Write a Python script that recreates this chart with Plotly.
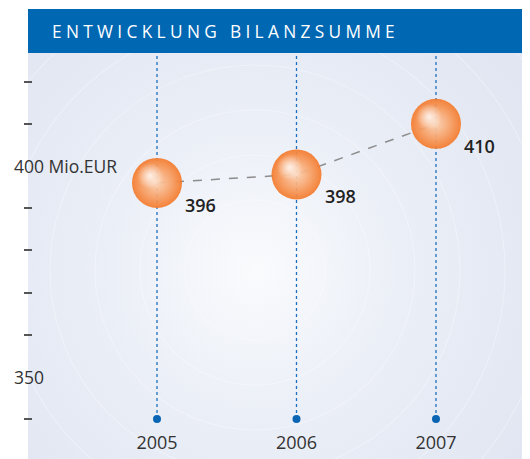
'''
    Entwicklung Bilanzsumme - bubble line chart with a blue header bar.
'''
import base64

import plotly.graph_objects as go

YEARS = [2005, 2006, 2007]
BILANZSUMME = [396, 398, 410]
Y_LABEL_VALUES = [400, 350]
Y_LABEL_TEXT = ['400 Mio.EUR', '350']
Y_TICKS = [340, 360, 370, 380, 390, 410, 420]
BASE_VALUE = 340

TITLE = 'ENTWICKLUNG BILANZSUMME'

Y_RANGE = [338.6, 426.8]
X_RANGE = [2004.111, 2007.674]

FONT = 'Open Sans'


def background_svg():
    '''
        Radial gradient used as the panel background.
    '''
    rings = ''.join(
        '<circle cx="227" cy="217" r="{}" fill="none" stroke="white" '
        'stroke-opacity="0.35" stroke-width="1"/>'.format(r)
        for r in (70, 115, 160, 205, 250, 295, 340)
    )
    svg = (
        '<svg xmlns="http://www.w3.org/2000/svg" width="502" height="406" '
        'viewBox="0 0 502 406" preserveAspectRatio="none">'
        '<defs><radialGradient id="g" gradientUnits="userSpaceOnUse" '
        'cx="227" cy="217" r="320">'
        '<stop offset="0" stop-color="#fafbfd"/>'
        '<stop offset="0.45" stop-color="#ebeff7"/>'
        '<stop offset="1" stop-color="#e1e6f2"/>'
        '</radialGradient></defs>'
        '<rect width="502" height="406" fill="url(#g)"/>' + rings + '</svg>'
    )
    return 'data:image/svg+xml;base64,' + base64.b64encode(svg.encode()).decode()


fig = go.Figure()

# dotted verticals from the base dot up to the header
for yr in YEARS:
    fig.add_trace(go.Scatter(
        x=[yr, yr], y=[BASE_VALUE, Y_RANGE[1]],
        mode='lines',
        line=dict(color='#1f6fc0', width=1.3, dash='dot'),
        hoverinfo='skip', showlegend=False,
    ))

# base dots
fig.add_trace(go.Scatter(
    x=YEARS, y=[BASE_VALUE] * len(YEARS),
    mode='markers',
    marker=dict(size=8, color='#0a64b4'),
    hoverinfo='skip', showlegend=False,
))

# dashed connecting line
fig.add_trace(go.Scatter(
    x=YEARS, y=BILANZSUMME,
    mode='lines',
    line=dict(color='#8c8c8c', width=1.5, dash='dash'),
    hoverinfo='skip', showlegend=False,
))

# spheres
fig.add_trace(go.Scatter(
    x=YEARS, y=BILANZSUMME,
    mode='markers',
    marker=dict(size=50, color='#f47a2c', opacity=0.93,
                line=dict(width=0),
                gradient=dict(type='radial', color='#fcd2b3')),
    hovertemplate='%{x}: %{y} Mio.EUR<extra></extra>',
    showlegend=False,
))

# highlight on the spheres (slightly up-left of centre)
fig.add_trace(go.Scatter(
    x=[yr - 0.05 for yr in YEARS], y=[v + 1.7 for v in BILANZSUMME],
    mode='markers',
    marker=dict(size=26, color='rgba(255,255,255,0)',
                line=dict(width=0),
                gradient=dict(type='radial', color='rgba(255,255,255,0.8)')),
    hoverinfo='skip', showlegend=False,
))

annotations = []
for yr, v in zip(YEARS, BILANZSUMME):
    annotations.append(dict(
        x=yr, y=v, xref='x', yref='y', text=str(v), showarrow=False,
        xanchor='left', yanchor='middle', xshift=26, yshift=-22,
        font=dict(family=FONT, size=18, color='#222222', weight=600),
    ))

for v, txt in zip(Y_LABEL_VALUES, Y_LABEL_TEXT):
    annotations.append(dict(
        x=-0.0423, y=v, xref='paper', yref='y', text=txt, showarrow=False,
        xanchor='left', yanchor='middle',
        font=dict(family=FONT, size=17.5, color='#333333'),
    ))

annotations.append(dict(
    x=0.0342, y=1.059, xref='paper', yref='paper',
    text='\u2005'.join(TITLE), showarrow=False,
    xanchor='left', yanchor='middle',
    font=dict(family=FONT, size=17.3, color='white'),
))

# the page body has an 8px margin: margins are set so the plot area lands
# where it should in the window, the overflow is clipped
fig.update_layout(
    width=530, height=459,
    margin=dict(l=25, r=8, t=45, b=42),
    paper_bgcolor='white',
    plot_bgcolor='rgba(0,0,0,0)',
    hovermode='closest',
    annotations=annotations,
    shapes=[dict(
        type='rect', xref='paper', yref='paper',
        x0=-0.01006, x1=1, y0=1.0, y1=1.1183,
        fillcolor='#0067b3', line=dict(width=0), layer='above',
    )],
    images=[dict(
        source=background_svg(), xref='paper', yref='paper',
        x=-0.01006, y=1.0, sizex=1.01006, sizey=1.0914,
        xanchor='left', yanchor='top', sizing='stretch', layer='below',
    )],
)

fig.update_xaxes(
    range=X_RANGE, tickvals=YEARS, ticktext=[str(y) for y in YEARS],
    showgrid=False, zeroline=False, showline=False, ticks='',
    ticklabelstandoff=5,
    tickfont=dict(family=FONT, size=18, color='#333333'),
)

fig.update_yaxes(
    range=Y_RANGE, tickvals=Y_TICKS, showticklabels=False,
    ticks='outside', ticklen=8, tickwidth=1.5, tickcolor='#555555',
    showgrid=False, zeroline=False, showline=False,
)

fig.write_html('out.html', post_script="document.body.style.overflow='hidden';")
